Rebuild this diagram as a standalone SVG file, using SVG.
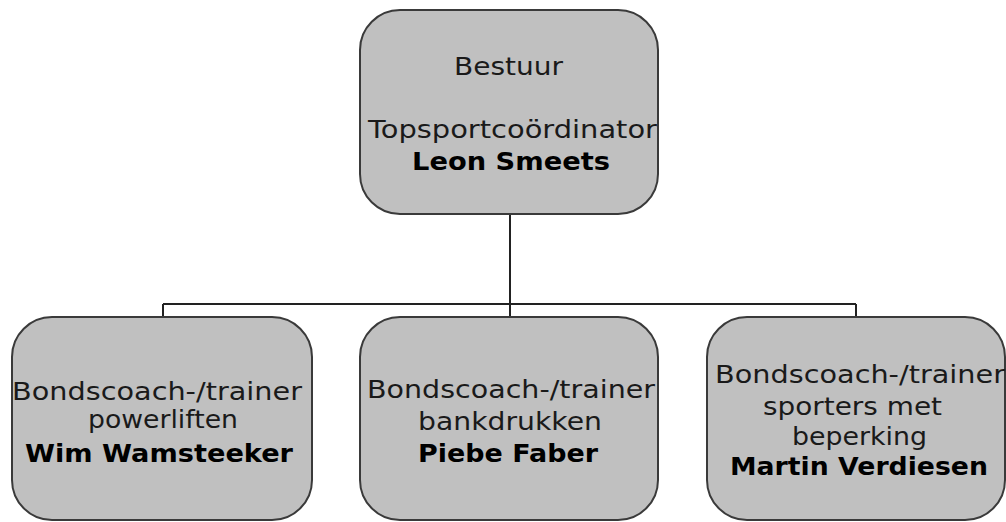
<svg xmlns="http://www.w3.org/2000/svg" width="1006" height="522" viewBox="0 0 1006 522">
<style>
.box{fill:#c0c0c0;stroke:#3a3a3a;stroke-width:2}
.t{font-family:"DejaVu Sans","Liberation Sans",sans-serif;font-size:25px;fill:#1a1a1a}
.b{font-weight:bold;fill:#000}
.c{fill:none;stroke:#222;stroke-width:2}
</style>
<rect width="1006" height="522" fill="#fff"/>
<g id="connectors">
<path class="c" d="M510 215 V304 M163 304 H856 M163 304 V317 M510 304 V317 M856 304 V317"/>
</g>
<g id="node-bestuur">
<rect class="box" x="360" y="10" width="298" height="204" rx="40" ry="40"/>
<text class="t" x="454" y="75" textLength="109" lengthAdjust="spacingAndGlyphs">Bestuur</text>
<text class="t" x="368" y="138" textLength="289" lengthAdjust="spacingAndGlyphs">Topsportcoördinator</text>
<text class="t b" x="412" y="170" textLength="198" lengthAdjust="spacingAndGlyphs">Leon Smeets</text>
</g>
<g id="node-powerliften">
<rect class="box" x="12" y="317" width="300" height="203" rx="40" ry="40"/>
<text class="t" x="12" y="400" textLength="290" lengthAdjust="spacingAndGlyphs">Bondscoach-/trainer</text>
<text class="t" x="88" y="428" textLength="150" lengthAdjust="spacingAndGlyphs">powerliften</text>
<text class="t b" x="25" y="462" textLength="268" lengthAdjust="spacingAndGlyphs">Wim Wamsteeker</text>
</g>
<g id="node-bankdrukken">
<rect class="box" x="360" y="317" width="298" height="203" rx="40" ry="40"/>
<text class="t" x="367" y="398" textLength="288" lengthAdjust="spacingAndGlyphs">Bondscoach-/trainer</text>
<text class="t" x="418" y="430" textLength="184" lengthAdjust="spacingAndGlyphs">bankdrukken</text>
<text class="t b" x="418" y="462" textLength="180" lengthAdjust="spacingAndGlyphs">Piebe Faber</text>
</g>
<g id="node-beperking">
<rect class="box" x="707" y="317" width="298" height="203" rx="40" ry="40"/>
<text class="t" x="715" y="383" textLength="290" lengthAdjust="spacingAndGlyphs">Bondscoach-/trainer</text>
<text class="t" x="763" y="415" textLength="179" lengthAdjust="spacingAndGlyphs">sporters met</text>
<text class="t" x="792" y="445" textLength="135" lengthAdjust="spacingAndGlyphs">beperking</text>
<text class="t b" x="730" y="475" textLength="258" lengthAdjust="spacingAndGlyphs">Martin Verdiesen</text>
</g>
</svg>
